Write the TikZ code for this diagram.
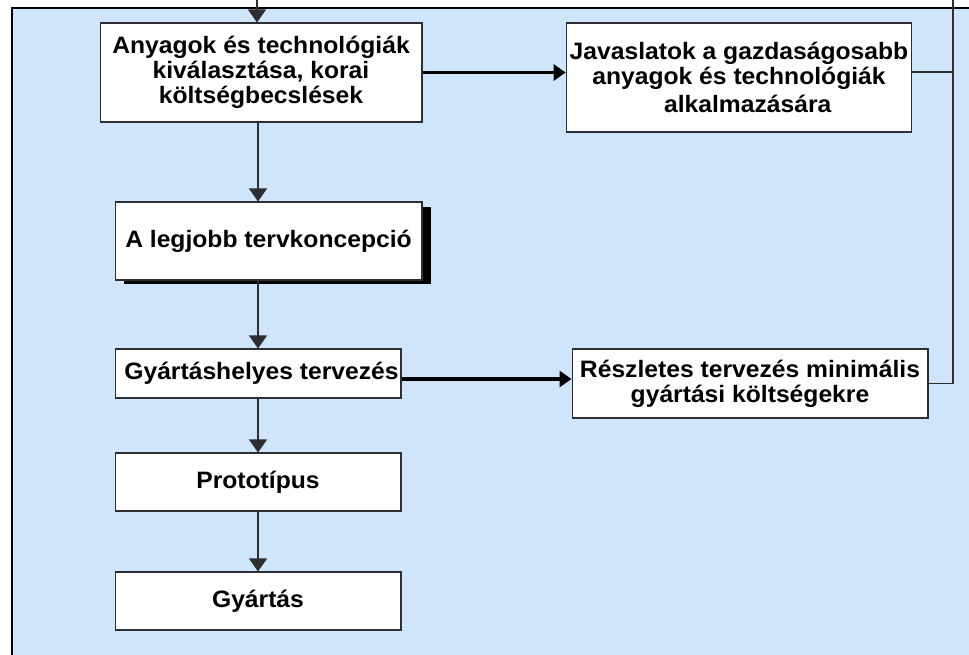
\documentclass[tikz,border=0pt]{standalone}
\usepackage{fontspec}
\setmainfont{Liberation Sans}[FakeStretch=1.04]
\usepackage{xcolor}
\usetikzlibrary{arrows.meta, positioning, shadows, calc}
\definecolor{panelblue}{RGB}{207, 229, 252}
\definecolor{boxline}{RGB}{45, 45, 50}

\begin{document}
\begin{tikzpicture}[
    x=0.02cm, y=-0.02cm,
    box/.style={rectangle, draw=boxline, line width=0.6pt, fill=white, align=center, inner sep=2pt, font=\bfseries\fontsize{13.5}{14.2}\selectfont},
    flow/.style={-{Triangle[width=0.36cm, length=0.26cm]}, draw=boxline, line width=0.6pt},
    push/.style={-{Triangle[width=0.32cm, length=0.24cm]}, line width=1.8pt},
    back/.style={draw=boxline, line width=0.8pt}
]
\useasboundingbox (0,0) rectangle (969,655);
% Panel
\draw[line width=1.5pt, fill=panelblue] (12,8) rectangle (990,680);

% Left column
\node[box, minimum width=6.44cm, minimum height=1.98cm] (select) at (261,72.5) {Anyagok és technológiák\\kiválasztása, korai\\költségbecslések};
\node[box, minimum width=6.14cm, minimum height=1.56cm, drop shadow={shadow xshift=0.18cm, shadow yshift=-0.09cm, fill=black, opacity=1}] (concept) at (268.5,241) {A legjobb tervkoncepció};
\node[box, minimum width=5.72cm, minimum height=0.98cm] (dfm) at (258,373.5) {\hspace*{0.07cm}Gyártáshelyes tervezés\hspace*{-0.07cm}};
\node[box, minimum width=5.72cm, minimum height=1.16cm] (proto) at (258,482) {Prototípus};
\node[box, minimum width=5.72cm, minimum height=1.16cm] (prod) at (258,601) {Gyártás};

% Right column
\node[box, minimum width=6.88cm, minimum height=2.18cm] (advice) at (739,77.5) {Javaslatok a gazdaságosabb\\anyagok és technológiák\hspace*{0.25cm}\\[2pt]\hspace*{0.35cm}alkalmazására};
\node[box, minimum width=7.12cm, minimum height=1.38cm] (detail) at (750,383.5) {Részletes tervezés minimális\\gyártási költségekre};

% Vertical flow
\coordinate (entry) at (257,-10);
\draw[flow] (entry) -- (entry |- select.north);
\draw[flow] (select.south -| dfm.north) -- (concept.north -| dfm.north);
\draw[flow] (concept.south -| dfm.north) -- (dfm.north);
\draw[flow] (dfm) -- (proto);
\draw[flow] (proto) -- (prod);

% Horizontal arrows
\draw[push] (select.east) -- (select.east -| advice.west);
\draw[push] ([yshift=-0.11cm]dfm.east) -- ([yshift=-0.11cm]dfm.east -| detail.west);

% Feedback line
\coordinate (fbtop) at (953,-10);
\draw[back] (detail.east) -| (fbtop);
\draw[back] ([yshift=0.11cm]advice.east) -- ([yshift=0.11cm]advice.east -| fbtop);
\end{tikzpicture}
\end{document}
